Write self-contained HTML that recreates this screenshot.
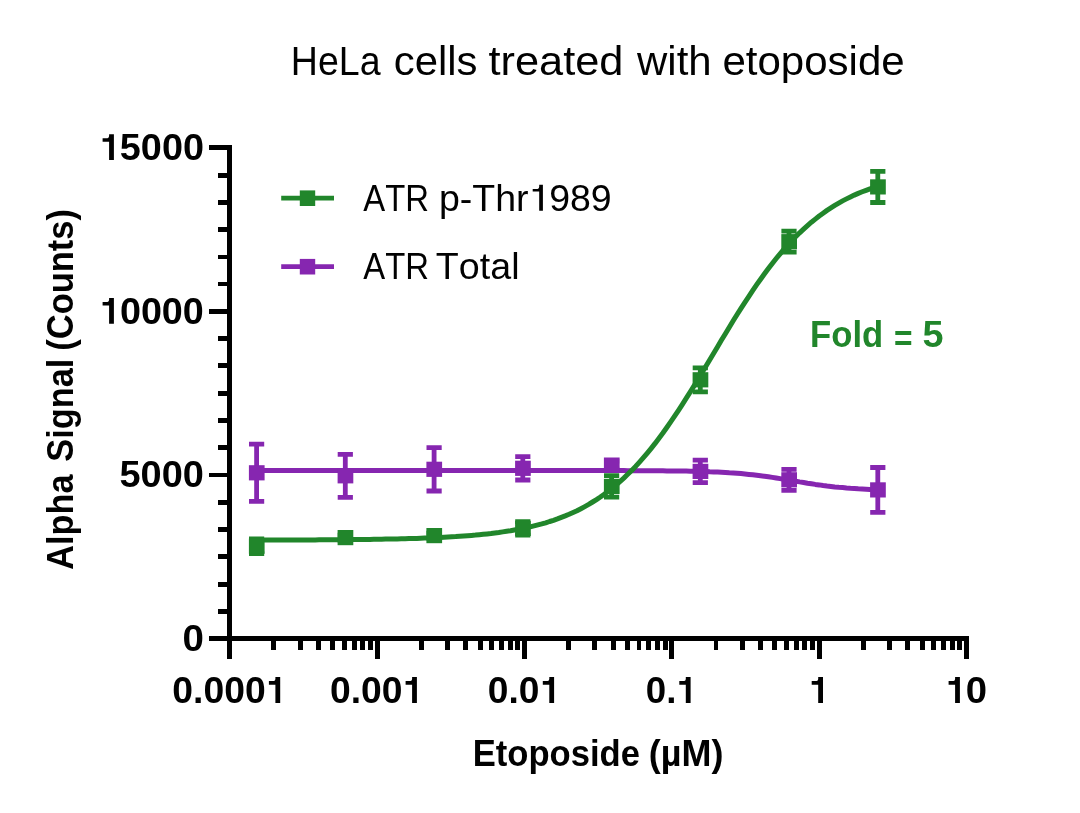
<!DOCTYPE html>
<html><head><meta charset="utf-8"><title>HeLa cells treated with etoposide</title>
<style>
html,body{margin:0;padding:0;background:#fff;}
body{width:1080px;height:813px;overflow:hidden;}
svg{display:block;font-family:"Liberation Sans",sans-serif;font-kerning:none;}
</style></head><body>
<svg width="1080" height="813" viewBox="0 0 1080 813">
<rect width="1080" height="813" fill="#fff"/>
<g id="axes">
<g shape-rendering="crispEdges" fill="#000">
<rect x="227" y="145" width="5" height="514"/><rect x="209" y="636" width="760" height="5"/><rect x="209" y="145" width="23" height="5"/><rect x="218" y="173" width="14" height="5"/><rect x="218" y="200" width="14" height="5"/><rect x="218" y="227" width="14" height="5"/><rect x="218" y="255" width="14" height="4"/><rect x="218" y="282" width="14" height="4"/><rect x="209" y="309" width="23" height="5"/><rect x="218" y="336" width="14" height="5"/><rect x="218" y="363" width="14" height="5"/><rect x="218" y="391" width="14" height="5"/><rect x="218" y="418" width="14" height="5"/><rect x="218" y="445" width="14" height="5"/><rect x="209" y="473" width="23" height="4"/><rect x="218" y="500" width="14" height="5"/><rect x="218" y="527" width="14" height="5"/><rect x="218" y="554" width="14" height="5"/><rect x="218" y="582" width="14" height="5"/><rect x="218" y="609" width="14" height="5"/><rect x="209" y="636" width="23" height="5"/><rect x="227" y="638" width="5" height="21"/><rect x="375" y="638" width="5" height="21"/><rect x="522" y="638" width="5" height="21"/><rect x="669" y="638" width="5" height="21"/><rect x="817" y="638" width="5" height="21"/><rect x="964" y="638" width="5" height="21"/><rect x="271" y="638" width="5" height="12"/><rect x="298" y="638" width="5" height="12"/><rect x="316" y="638" width="5" height="12"/><rect x="330" y="638" width="5" height="12"/><rect x="342" y="638" width="5" height="12"/><rect x="352" y="638" width="5" height="12"/><rect x="360" y="638" width="5" height="12"/><rect x="368" y="638" width="5" height="12"/><rect x="419" y="638" width="5" height="12"/><rect x="445" y="638" width="5" height="12"/><rect x="463" y="638" width="5" height="12"/><rect x="478" y="638" width="5" height="12"/><rect x="489" y="638" width="5" height="12"/><rect x="499" y="638" width="5" height="12"/><rect x="508" y="638" width="5" height="12"/><rect x="515" y="638" width="5" height="12"/><rect x="566" y="638" width="5" height="12"/><rect x="592" y="638" width="5" height="12"/><rect x="611" y="638" width="5" height="12"/><rect x="625" y="638" width="5" height="12"/><rect x="637" y="638" width="4" height="12"/><rect x="646" y="638" width="5" height="12"/><rect x="655" y="638" width="5" height="12"/><rect x="663" y="638" width="5" height="12"/><rect x="714" y="638" width="4" height="12"/><rect x="740" y="638" width="5" height="12"/><rect x="758" y="638" width="5" height="12"/><rect x="772" y="638" width="5" height="12"/><rect x="784" y="638" width="5" height="12"/><rect x="794" y="638" width="5" height="12"/><rect x="802" y="638" width="5" height="12"/><rect x="810" y="638" width="5" height="12"/><rect x="861" y="638" width="5" height="12"/><rect x="887" y="638" width="5" height="12"/><rect x="905" y="638" width="5" height="12"/><rect x="920" y="638" width="5" height="12"/><rect x="931" y="638" width="5" height="12"/><rect x="941" y="638" width="5" height="12"/><rect x="950" y="638" width="5" height="12"/><rect x="957" y="638" width="5" height="12"/>
</g>
</g>
<g id="purple">
<path d="M256.6,470.6 L260.5,470.6 L264.4,470.6 L268.3,470.6 L272.2,470.6 L276.1,470.6 L280.0,470.6 L283.9,470.6 L287.9,470.6 L291.8,470.6 L295.7,470.6 L299.6,470.6 L303.5,470.6 L307.4,470.6 L311.3,470.6 L315.2,470.6 L319.1,470.6 L323.0,470.6 L326.9,470.6 L330.8,470.6 L334.7,470.6 L338.6,470.6 L342.5,470.6 L346.5,470.6 L350.4,470.6 L354.3,470.6 L358.2,470.6 L362.1,470.6 L366.0,470.6 L369.9,470.6 L373.8,470.6 L377.7,470.6 L381.6,470.6 L385.5,470.6 L389.4,470.6 L393.3,470.6 L397.2,470.6 L401.2,470.6 L405.1,470.6 L409.0,470.6 L412.9,470.6 L416.8,470.6 L420.7,470.6 L424.6,470.6 L428.5,470.6 L432.4,470.6 L436.3,470.6 L440.2,470.6 L444.1,470.6 L448.0,470.6 L451.9,470.6 L455.8,470.6 L459.8,470.6 L463.7,470.6 L467.6,470.6 L471.5,470.6 L475.4,470.6 L479.3,470.6 L483.2,470.6 L487.1,470.6 L491.0,470.6 L494.9,470.6 L498.8,470.6 L502.7,470.6 L506.6,470.6 L510.5,470.6 L514.4,470.6 L518.4,470.6 L522.3,470.6 L526.2,470.6 L530.1,470.6 L534.0,470.6 L537.9,470.6 L541.8,470.6 L545.7,470.6 L549.6,470.6 L553.5,470.6 L557.4,470.6 L561.3,470.6 L565.2,470.6 L569.1,470.6 L573.1,470.6 L577.0,470.6 L580.9,470.6 L584.8,470.6 L588.7,470.6 L592.6,470.6 L596.5,470.6 L600.4,470.6 L604.3,470.6 L608.2,470.6 L612.1,470.6 L616.0,470.6 L619.9,470.6 L623.8,470.6 L627.7,470.7 L631.7,470.7 L635.6,470.7 L639.5,470.7 L643.4,470.7 L647.3,470.7 L651.2,470.7 L655.1,470.8 L659.0,470.8 L662.9,470.8 L666.8,470.9 L670.7,470.9 L674.6,471.0 L678.5,471.0 L682.4,471.1 L686.3,471.1 L690.3,471.2 L694.2,471.3 L698.1,471.4 L702.0,471.5 L705.9,471.6 L709.8,471.8 L713.7,471.9 L717.6,472.1 L721.5,472.3 L725.4,472.5 L729.3,472.8 L733.2,473.0 L737.1,473.3 L741.0,473.6 L744.9,474.0 L748.9,474.4 L752.8,474.8 L756.7,475.3 L760.6,475.8 L764.5,476.3 L768.4,476.8 L772.3,477.4 L776.2,478.0 L780.1,478.6 L784.0,479.3 L787.9,479.9 L791.8,480.6 L795.7,481.2 L799.6,481.9 L803.6,482.5 L807.5,483.2 L811.4,483.8 L815.3,484.4 L819.2,484.9 L823.1,485.5 L827.0,486.0 L830.9,486.4 L834.8,486.9 L838.7,487.3 L842.6,487.6 L846.5,488.0 L850.4,488.3 L854.3,488.5 L858.2,488.8 L862.2,489.0 L866.1,489.2 L870.0,489.4 L873.9,489.6 L877.8,489.7" fill="none" stroke="#8626B0" stroke-width="5" stroke-linejoin="round"/>
<path d="M256.6,444.2V501.4M249.0,444.2h15.2M249.0,501.4h15.2" stroke="#8626B0" stroke-width="4.8" fill="none"/>
<rect x="248.9" y="465.2" width="15.7" height="15.2" fill="#8626B0"/>
<path d="M345.3,454.3V497.3M337.7,454.3h15.2M337.7,497.3h15.2" stroke="#8626B0" stroke-width="4.8" fill="none"/>
<rect x="337.6" y="468.2" width="15.7" height="15.2" fill="#8626B0"/>
<path d="M434.1,447.6V491.0M426.5,447.6h15.2M426.5,491.0h15.2" stroke="#8626B0" stroke-width="4.8" fill="none"/>
<rect x="426.4" y="461.7" width="15.7" height="15.2" fill="#8626B0"/>
<path d="M522.8,456.6V480.0M515.2,456.6h15.2M515.2,480.0h15.2" stroke="#8626B0" stroke-width="4.8" fill="none"/>
<rect x="515.1" y="460.7" width="15.7" height="15.2" fill="#8626B0"/>
<path d="M611.6,461.1V469.1M604.0,461.1h15.2M604.0,469.1h15.2" stroke="#8626B0" stroke-width="4.8" fill="none"/>
<rect x="603.9" y="457.5" width="15.7" height="15.2" fill="#8626B0"/>
<path d="M700.3,460.2V482.6M692.7,460.2h15.2M692.7,482.6h15.2" stroke="#8626B0" stroke-width="4.8" fill="none"/>
<rect x="692.6" y="463.8" width="15.7" height="15.2" fill="#8626B0"/>
<path d="M789.0,469.3V490.3M781.4,469.3h15.2M781.4,490.3h15.2" stroke="#8626B0" stroke-width="4.8" fill="none"/>
<rect x="781.3" y="472.2" width="15.7" height="15.2" fill="#8626B0"/>
<path d="M877.8,467.5V512.3M870.2,467.5h15.2M870.2,512.3h15.2" stroke="#8626B0" stroke-width="4.8" fill="none"/>
<rect x="870.1" y="482.3" width="15.7" height="15.2" fill="#8626B0"/>
</g>
<g id="green">
<path d="M256.6,540.1 L260.5,540.1 L264.4,540.0 L268.3,540.0 L272.2,540.0 L276.1,540.0 L280.0,540.0 L283.9,540.0 L287.9,540.0 L291.8,540.0 L295.7,540.0 L299.6,539.9 L303.5,539.9 L307.4,539.9 L311.3,539.9 L315.2,539.9 L319.1,539.8 L323.0,539.8 L326.9,539.8 L330.8,539.8 L334.7,539.7 L338.6,539.7 L342.5,539.7 L346.5,539.7 L350.4,539.6 L354.3,539.6 L358.2,539.5 L362.1,539.5 L366.0,539.4 L369.9,539.4 L373.8,539.3 L377.7,539.3 L381.6,539.2 L385.5,539.1 L389.4,539.1 L393.3,539.0 L397.2,538.9 L401.2,538.8 L405.1,538.7 L409.0,538.6 L412.9,538.5 L416.8,538.4 L420.7,538.2 L424.6,538.1 L428.5,538.0 L432.4,537.8 L436.3,537.6 L440.2,537.4 L444.1,537.2 L448.0,537.0 L451.9,536.8 L455.8,536.6 L459.8,536.3 L463.7,536.0 L467.6,535.7 L471.5,535.4 L475.4,535.1 L479.3,534.7 L483.2,534.3 L487.1,533.9 L491.0,533.5 L494.9,533.0 L498.8,532.5 L502.7,531.9 L506.6,531.3 L510.5,530.7 L514.4,530.0 L518.4,529.3 L522.3,528.6 L526.2,527.7 L530.1,526.9 L534.0,525.9 L537.9,524.9 L541.8,523.9 L545.7,522.8 L549.6,521.5 L553.5,520.3 L557.4,518.9 L561.3,517.4 L565.2,515.9 L569.1,514.3 L573.1,512.5 L577.0,510.7 L580.9,508.7 L584.8,506.6 L588.7,504.4 L592.6,502.0 L596.5,499.6 L600.4,497.0 L604.3,494.2 L608.2,491.3 L612.1,488.2 L616.0,485.0 L619.9,481.6 L623.8,478.1 L627.7,474.3 L631.7,470.4 L635.6,466.4 L639.5,462.1 L643.4,457.7 L647.3,453.1 L651.2,448.3 L655.1,443.4 L659.0,438.2 L662.9,433.0 L666.8,427.5 L670.7,421.9 L674.6,416.2 L678.5,410.3 L682.4,404.3 L686.3,398.2 L690.3,391.9 L694.2,385.6 L698.1,379.2 L702.0,372.8 L705.9,366.3 L709.8,359.7 L713.7,353.2 L717.6,346.7 L721.5,340.1 L725.4,333.7 L729.3,327.2 L733.2,320.8 L737.1,314.5 L741.0,308.3 L744.9,302.3 L748.9,296.3 L752.8,290.4 L756.7,284.7 L760.6,279.2 L764.5,273.8 L768.4,268.5 L772.3,263.4 L776.2,258.5 L780.1,253.8 L784.0,249.2 L787.9,244.9 L791.8,240.7 L795.7,236.6 L799.6,232.8 L803.6,229.1 L807.5,225.6 L811.4,222.2 L815.3,219.1 L819.2,216.0 L823.1,213.2 L827.0,210.4 L830.9,207.9 L834.8,205.4 L838.7,203.1 L842.6,200.9 L846.5,198.9 L850.4,197.0 L854.3,195.1 L858.2,193.4 L862.2,191.8 L866.1,190.3 L870.0,188.8 L873.9,187.5 L877.8,186.2" fill="none" stroke="#21862B" stroke-width="5" stroke-linejoin="round"/>
<path d="M256.6,538.8V553.6M249.0,538.8h15.2M249.0,553.6h15.2" stroke="#21862B" stroke-width="4.8" fill="none"/>
<rect x="248.9" y="538.6" width="15.7" height="15.2" fill="#21862B"/>
<path d="M345.3,535.1V540.1M337.7,535.1h15.2M337.7,540.1h15.2" stroke="#21862B" stroke-width="4.8" fill="none"/>
<rect x="337.6" y="530.0" width="15.7" height="15.2" fill="#21862B"/>
<path d="M434.1,533.1V538.1M426.5,533.1h15.2M426.5,538.1h15.2" stroke="#21862B" stroke-width="4.8" fill="none"/>
<rect x="426.4" y="528.0" width="15.7" height="15.2" fill="#21862B"/>
<path d="M522.8,521.6V535.2M515.2,521.6h15.2M515.2,535.2h15.2" stroke="#21862B" stroke-width="4.8" fill="none"/>
<rect x="515.1" y="520.8" width="15.7" height="15.2" fill="#21862B"/>
<path d="M611.6,475.7V497.1M604.0,475.7h15.2M604.0,497.1h15.2" stroke="#21862B" stroke-width="4.8" fill="none"/>
<rect x="603.9" y="478.8" width="15.7" height="15.2" fill="#21862B"/>
<path d="M700.3,367.8V391.8M692.7,367.8h15.2M692.7,391.8h15.2" stroke="#21862B" stroke-width="4.8" fill="none"/>
<rect x="692.6" y="372.2" width="15.7" height="15.2" fill="#21862B"/>
<path d="M789.0,231.2V252.2M781.4,231.2h15.2M781.4,252.2h15.2" stroke="#21862B" stroke-width="4.8" fill="none"/>
<rect x="781.3" y="234.1" width="15.7" height="15.2" fill="#21862B"/>
<path d="M877.8,171.3V202.5M870.2,171.3h15.2M870.2,202.5h15.2" stroke="#21862B" stroke-width="4.8" fill="none"/>
<rect x="870.1" y="179.3" width="15.7" height="15.2" fill="#21862B"/>
</g>
<g id="legend">
<path d="M281.2,198.2H334" stroke="#21862B" stroke-width="4.8"/><rect x="299.8" y="190.4" width="15.4" height="15.6" fill="#21862B"/>
<path d="M281.2,266.7H334" stroke="#8626B0" stroke-width="4.8"/><rect x="299.8" y="258.9" width="15.4" height="15.6" fill="#8626B0"/>
</g>
<g id="labels" opacity="0.999">
<text x="290.82" y="75.1" font-size="41.4" font-weight="normal" fill="#000" textLength="89.78" lengthAdjust="spacingAndGlyphs">HeLa</text>
<text x="393.72" y="75.1" font-size="41.4" font-weight="normal" fill="#000" textLength="83.69" lengthAdjust="spacingAndGlyphs">cells</text>
<text x="488.54" y="75.1" font-size="41.4" font-weight="normal" fill="#000" textLength="134.95" lengthAdjust="spacingAndGlyphs">treated</text>
<text x="637.06" y="75.1" font-size="41.4" font-weight="normal" fill="#000" textLength="74.56" lengthAdjust="spacingAndGlyphs">with</text>
<text x="722.41" y="75.1" font-size="41.4" font-weight="normal" fill="#000" textLength="182.25" lengthAdjust="spacingAndGlyphs">etoposide</text>
<path transform="translate(113.9,160.0)" d="M-4.8,-25.8H0V0H-4.8V-18.20H-11.3V-21.80H-6.40Q-4.90,-22.10 -4.8,-24.00Z" fill="#000"/>
<text x="119.84" y="160.0" font-size="37.4" font-weight="bold" fill="#000" textLength="84.11" lengthAdjust="spacingAndGlyphs">5000</text>
<path transform="translate(113.9,323.7)" d="M-4.8,-25.8H0V0H-4.8V-18.20H-11.3V-21.80H-6.40Q-4.90,-22.10 -4.8,-24.00Z" fill="#000"/>
<text x="119.91" y="323.7" font-size="37.4" font-weight="bold" fill="#000" textLength="83.94" lengthAdjust="spacingAndGlyphs">0000</text>
<text x="119.53" y="487.3" font-size="37.4" font-weight="bold" fill="#000" textLength="84.32" lengthAdjust="spacingAndGlyphs">5000</text>
<text x="182.48" y="651.0" font-size="37.4" font-weight="bold" fill="#000" textLength="21.40" lengthAdjust="spacingAndGlyphs">0</text>
<text x="172.33" y="702.9" font-size="37.4" font-weight="bold" fill="#000" textLength="93.30" lengthAdjust="spacingAndGlyphs">0.000</text>
<path transform="translate(280.2,702.9)" d="M-4.8,-25.8H0V0H-4.8V-18.20H-11.3V-21.80H-6.40Q-4.90,-22.10 -4.8,-24.00Z" fill="#000"/>
<text x="329.93" y="702.9" font-size="37.4" font-weight="bold" fill="#000" textLength="72.50" lengthAdjust="spacingAndGlyphs">0.00</text>
<path transform="translate(416.9,702.9)" d="M-4.8,-25.8H0V0H-4.8V-18.20H-11.3V-21.80H-6.40Q-4.90,-22.10 -4.8,-24.00Z" fill="#000"/>
<text x="487.83" y="702.9" font-size="37.4" font-weight="bold" fill="#000" textLength="51.59" lengthAdjust="spacingAndGlyphs">0.0</text>
<path transform="translate(554.1,702.9)" d="M-4.8,-25.8H0V0H-4.8V-18.20H-11.3V-21.80H-6.40Q-4.90,-22.10 -4.8,-24.00Z" fill="#000"/>
<text x="645.75" y="702.9" font-size="37.4" font-weight="bold" fill="#000" textLength="30.57" lengthAdjust="spacingAndGlyphs">0.</text>
<path transform="translate(690.6,702.9)" d="M-4.8,-25.8H0V0H-4.8V-18.20H-11.3V-21.80H-6.40Q-4.90,-22.10 -4.8,-24.00Z" fill="#000"/>
<path transform="translate(823.0,702.9)" d="M-4.8,-25.8H0V0H-4.8V-18.20H-11.3V-21.80H-6.40Q-4.90,-22.10 -4.8,-24.00Z" fill="#000"/>
<path transform="translate(959.9,702.9)" d="M-4.8,-25.8H0V0H-4.8V-18.20H-11.3V-21.80H-6.40Q-4.90,-22.10 -4.8,-24.00Z" fill="#000"/>
<text x="965.89" y="702.9" font-size="37.4" font-weight="bold" fill="#000" textLength="21.28" lengthAdjust="spacingAndGlyphs">0</text>
<text x="472.68" y="766.1" font-size="37.6" font-weight="bold" fill="#000" textLength="167.30" lengthAdjust="spacingAndGlyphs">Etoposide</text>
<text x="648.81" y="766.1" font-size="37.6" font-weight="bold" fill="#000" textLength="74.58" lengthAdjust="spacingAndGlyphs">(µM)</text>
<text transform="translate(72.7,569.65) rotate(-90)" font-size="37.8" font-weight="bold" fill="#000" textLength="95.14" lengthAdjust="spacingAndGlyphs">Alpha</text>
<text transform="translate(72.7,461.69) rotate(-90)" font-size="37.8" font-weight="bold" fill="#000" textLength="103.12" lengthAdjust="spacingAndGlyphs">Signal</text>
<text transform="translate(72.7,350.72) rotate(-90)" font-size="37.8" font-weight="bold" fill="#000" textLength="141.63" lengthAdjust="spacingAndGlyphs">(Counts)</text>
<text x="810.08" y="346.9" font-size="37.0" font-weight="bold" fill="#21862B" textLength="73.10" lengthAdjust="spacingAndGlyphs">Fold</text>
<text x="922.64" y="346.9" font-size="37.0" font-weight="bold" fill="#21862B" textLength="21.01" lengthAdjust="spacingAndGlyphs">5</text>
<text x="893.88" y="350.8" font-size="37.0" font-weight="bold" fill="#21862B" textLength="18.52" lengthAdjust="spacingAndGlyphs">=</text>
<text x="363.34" y="210.7" font-size="37.8" font-weight="normal" fill="#000" textLength="65.69" lengthAdjust="spacingAndGlyphs">ATR</text>
<text x="438.98" y="210.7" font-size="37.8" font-weight="normal" fill="#000" textLength="89.64" lengthAdjust="spacingAndGlyphs">p-Thr</text>
<text x="549.15" y="210.7" font-size="37.8" font-weight="normal" fill="#000" textLength="62.43" lengthAdjust="spacingAndGlyphs">989</text>
<path transform="translate(542.9,210.7)" d="M-3.7,-26.0H0V0H-3.7V-19.10H-10.2V-21.70H-5.30Q-3.80,-22.00 -3.7,-23.90Z" fill="#000"/>
<text x="363.34" y="278.8" font-size="37.8" font-weight="normal" fill="#000" textLength="65.69" lengthAdjust="spacingAndGlyphs">ATR</text>
<text x="435.85" y="278.8" font-size="37.8" font-weight="normal" fill="#000" textLength="83.66" lengthAdjust="spacingAndGlyphs">Total</text>
</g>
</svg>
</body></html>
